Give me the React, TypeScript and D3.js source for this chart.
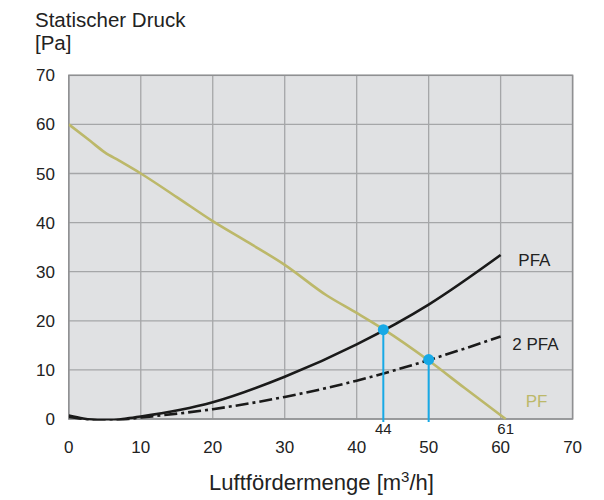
import React from "react";
import * as d3 from "d3";

const xTicks = [0, 10, 20, 30, 40, 50, 60, 70];
const yTicks = [0, 10, 20, 30, 40, 50, 60, 70];

const pfX = [0, 3, 5, 7, 10, 15, 20, 25, 30, 35.8, 40, 43.7, 50, 55, 60.7];
const pfY = [60, 56.6, 54.3, 52.6, 50, 45.2, 40.3, 35.9, 31.4, 25.2, 21.6, 18.3, 11.9, 6.3, 0];

const pfaX = [0, 2, 4, 6, 8, 10, 20, 30, 40, 50, 60];
const pfaY = [0.7, 0.1, -0.2, -0.2, 0.1, 0.5, 3.4, 8.6, 15.2, 23.3, 33.4];

const pfa2X = [0, 2, 4, 6, 10, 20, 30, 40, 50, 60];
const pfa2Y = [0.4, 0, -0.3, -0.3, 0.3, 2.0, 4.5, 7.8, 12.0, 16.8];

const markers = [
  { x: 43.7, y: 18.2 },
  { x: 50, y: 12.1 },
];
const markerLabels = [
  { x: 43.7, t: "44" },
  { x: 60.7, t: "61" },
];

const curveLabels = [
  { t: "PFA", x: 518.3, y: 266, c: "#222" },
  { t: "2 PFA", x: 512.3, y: 350, c: "#222" },
  { t: "PF", x: 525.7, y: 406.7, c: "#bcb86a" },
];

const W = 604;
const H = 500;
const font = "Liberation Sans, Arial, sans-serif";

export default function App() {
  const x = d3.scaleLinear().domain([0, 70]).range([68.8, 572.6]);
  const y = d3.scaleLinear().domain([0, 70]).range([419, 75.3]);
  const line = d3
    .line<[number, number]>()
    .x((d) => x(d[0]))
    .y((d) => y(d[1]))
    .curve(d3.curveMonotoneX);
  const zip = (a: number[], b: number[]) => a.map((v, i) => [v, b[i]] as [number, number]);

  return (
    <svg width={W} height={H} style={{ position: "absolute", left: 0, top: 0 }} fontFamily={font}>
      <defs>
        <clipPath id="plot">
          <rect x={x(0)} y={y(70)} width={x(70) - x(0)} height={y(0) - y(70) + 1.5} />
        </clipPath>
      </defs>
      <rect x={x(0)} y={y(70)} width={x(70) - x(0)} height={y(0) - y(70)} fill="#e0e1e3" />
      {xTicks.map((t) => (
        <line key={"gx" + t} x1={x(t)} x2={x(t)} y1={y(0)} y2={y(70)} stroke="#a5a6a8" strokeWidth={1.3} />
      ))}
      {yTicks.map((t) => (
        <line key={"gy" + t} x1={x(0)} x2={x(70)} y1={y(t)} y2={y(t)} stroke="#a5a6a8" strokeWidth={1.3} />
      ))}
      <rect x={x(0)} y={y(70)} width={x(70) - x(0)} height={y(0) - y(70)} fill="none" stroke="#8f9092" strokeWidth={1.5} />
      <g clipPath="url(#plot)">
        <path d={line(zip(pfX, pfY)) || ""} fill="none" stroke="#bcb86a" strokeWidth={2.6} />
        <path d={line(zip(pfaX, pfaY)) || ""} fill="none" stroke="#1a1a1a" strokeWidth={2.6} />
        <path
          d={line(zip(pfa2X, pfa2Y)) || ""}
          fill="none"
          stroke="#1a1a1a"
          strokeWidth={2.6}
          strokeDasharray="13,4,3,4"
        />
      </g>
      {markers.map((m, i) => (
        <g key={"m" + i}>
          <line x1={x(m.x)} x2={x(m.x)} y1={y(m.y)} y2={y(0) + 3} stroke="#17a9e6" strokeWidth={2} />
          <circle cx={x(m.x)} cy={y(m.y)} r={5.5} fill="#17a9e6" />
        </g>
      ))}
      {markerLabels.map((m) => (
        <text key={"ml" + m.t} x={x(m.x)} y={433.5} fontSize={15} textAnchor="middle" fill="#222">
          {m.t}
        </text>
      ))}
      {xTicks.map((t) => (
        <text key={"tx" + t} x={x(t)} y={452.5} fontSize={17} textAnchor="middle" fill="#222">
          {t}
        </text>
      ))}
      {yTicks.map((t) => (
        <text key={"ty" + t} x={55} y={y(t) + 6} fontSize={17} textAnchor="end" fill="#222">
          {t}
        </text>
      ))}
      {curveLabels.map((c) => (
        <text key={c.t} x={c.x} y={c.y} fontSize={17} fill={c.c}>
          {c.t}
        </text>
      ))}
      <text x={35} y={26.5} fontSize={20.5} fill="#222">Statischer Druck</text>
      <text x={35} y={50} fontSize={20.5} fill="#222">[Pa]</text>
      <text x={321.5} y={490} fontSize={22} textAnchor="middle" fill="#222">
        Luftfördermenge [m<tspan dy={-8} fontSize={15}>3</tspan>
        <tspan dy={8}>/h]</tspan>
      </text>
    </svg>
  );
}
